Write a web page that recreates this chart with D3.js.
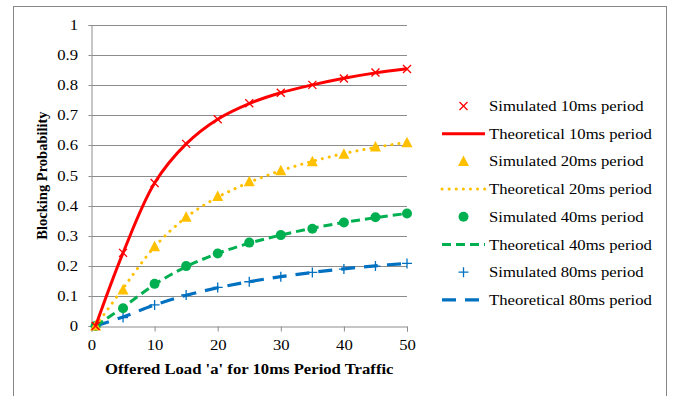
<!DOCTYPE html>
<html><head><meta charset="utf-8">
<script src="https://cdn.jsdelivr.net/npm/d3@7"></script>
<style>
html,body{margin:0;padding:0;background:#fff;}
svg{display:block;}
text{font-family:"Liberation Serif","Times New Roman",serif;fill:#000;}
</style></head>
<body><svg id="c" width="681" height="396"></svg>
<script>
const xValues = [0.65, 5, 10, 15, 20, 25, 30, 35, 40, 45, 50];
const sim10 = [0, 0.243, 0.475, 0.605, 0.687, 0.740, 0.775, 0.801, 0.822, 0.842, 0.854];
const theo10 = [0, 0.243, 0.475, 0.605, 0.687, 0.739, 0.775, 0.801, 0.823, 0.841, 0.855];
const sim20 = [0, 0.120, 0.263, 0.361, 0.430, 0.479, 0.516, 0.546, 0.571, 0.595, 0.609];
const theo20 = [0, 0.125, 0.263, 0.361, 0.428, 0.477, 0.516, 0.547, 0.573, 0.593, 0.611];
const sim40 = [0, 0.059, 0.140, 0.199, 0.241, 0.277, 0.302, 0.323, 0.344, 0.361, 0.374];
const theo40 = [0, 0.062, 0.138, 0.197, 0.241, 0.275, 0.302, 0.325, 0.344, 0.360, 0.374];
const sim80 = [0, 0.028, 0.070, 0.103, 0.128, 0.147, 0.164, 0.178, 0.189, 0.199, 0.208];
const theo80 = [0, 0.030, 0.070, 0.102, 0.127, 0.147, 0.164, 0.178, 0.190, 0.200, 0.208];
const xTicks = [0, 10, 20, 30, 40, 50];
const yTicks = [0, 0.1, 0.2, 0.3, 0.4, 0.5, 0.6, 0.7, 0.8, 0.9, 1];
const legendLabels = ["Simulated 10ms period","Theoretical 10ms period","Simulated 20ms period","Theoretical 20ms period","Simulated 40ms period","Theoretical 40ms period","Simulated 80ms period","Theoretical 80ms period"];

const SX = 1.15; // horizontal stretch of text in the original image
const FS = "14.5px";

const svg = d3.select("#c");
// outer border
svg.append("rect").attr("x",13.5).attr("y",6.5).attr("width",653).attr("height",400)
  .attr("fill","#fff").attr("stroke","#878787").attr("stroke-width",1);

const x = d3.scaleLinear().domain([0,50]).range([91.5,407]);
const y = d3.scaleLinear().domain([0,1]).range([326,25]);

function stretch(sel){
  sel.each(function(){
    const t = d3.select(this);
    const tx = +t.attr("x")||0, ty = +t.attr("y")||0;
    t.attr("x",0).attr("y",0).attr("transform",`translate(${tx},${ty}) scale(${SX},1)`);
  });
}

// gridlines
svg.append("g").selectAll("line").data(yTicks.slice(1)).join("line")
  .attr("x1",x(0)).attr("x2",x(50)).attr("y1",d=>Math.round(y(d))+0.5).attr("y2",d=>Math.round(y(d))+0.5)
  .attr("stroke","#8c8c8c").attr("stroke-width",1);

// y axis
const ya = svg.append("g").attr("transform","translate(91.5,0)")
  .call(d3.axisLeft(y).tickValues(yTicks).tickSize(3).tickPadding(10.5).tickFormat(d=>d3.format("~g")(d)));
ya.select(".domain").attr("stroke","#8c8c8c");
ya.selectAll(".tick line").attr("stroke","#8c8c8c");
ya.selectAll(".tick").attr("transform",d=>`translate(0,${Math.round(y(d))+0.5})`);
ya.selectAll("text").attr("font-family","Liberation Serif").attr("font-size",FS).attr("fill","#000").call(stretch);

// x axis
const xa = svg.append("g").attr("transform","translate(0,326.5)")
  .call(d3.axisBottom(x).tickValues(xTicks).tickSize(5).tickPadding(8));
xa.select(".domain").attr("stroke","#8c8c8c");
xa.selectAll(".tick line").attr("stroke","#8c8c8c");
xa.selectAll("text").attr("font-family","Liberation Serif").attr("font-size",FS).attr("fill","#000").call(stretch);

// axis titles
svg.append("text").attr("x",x(25)).attr("y",374).attr("text-anchor","middle")
  .attr("font-weight","bold").attr("font-size",FS).text("Offered Load 'a' for 10ms Period Traffic").call(stretch);
svg.append("text").attr("transform",`translate(47,${(y(0)+y(1))/2}) rotate(-90)`).attr("text-anchor","middle")
  .attr("font-weight","bold").attr("font-size",FS).text("Blocking Probability");

const series = [
  {sim:sim10, theo:theo10, color:"#ff0000", dash:null, width:3, marker:"x"},
  {sim:sim20, theo:theo20, color:"#ffc000", dash:"0.1,7", width:3, marker:"tri"},
  {sim:sim40, theo:theo40, color:"#00b050", dash:"9,5", width:3, marker:"circle"},
  {sim:sim80, theo:theo80, color:"#0070c0", dash:"14,9", width:3.2, marker:"plus"}
];

const line = d3.line().x(d=>x(d[0])).y(d=>y(d[1])).curve(d3.curveCatmullRom.alpha(0.5));

function drawMarker(g, type, color){
  if(type==="x"){
    g.append("path").attr("d","M-4,-4L4,4M-4,4L4,-4").attr("stroke",color).attr("stroke-width",1.3).attr("fill","none");
  } else if(type==="tri"){
    g.append("path").attr("d","M0,-6L5.5,4.5L-5.5,4.5Z").attr("fill",color);
  } else if(type==="circle"){
    g.append("circle").attr("r",5).attr("fill",color);
  } else {
    g.append("path").attr("d","M-5,0L5,0M0,-5L0,5").attr("stroke",color).attr("stroke-width",1.3).attr("fill","none");
  }
}

// draw in reverse order so red is on top
series.slice().reverse().forEach(s=>{
  const pts = xValues.map((xv,i)=>[xv,s.theo[i]]);
  svg.append("path").attr("d",line(pts)).attr("fill","none").attr("stroke",s.color)
    .attr("stroke-width",s.width).attr("stroke-dasharray",s.dash).attr("stroke-linecap",s.dash==="0.1,7"?"round":"butt");
  xValues.forEach((xv,i)=>{
    const g = svg.append("g").attr("transform",`translate(${x(xv)},${y(s.sim[i])})`);
    drawMarker(g, s.marker, s.color);
  });
});

// legend
const lg = svg.append("g");
legendLabels.forEach((lab,i)=>{
  const cy = 106 + i*27.7;
  const s = series[Math.floor(i/2)];
  if(i%2===0){
    const g = lg.append("g").attr("transform",`translate(463.5,${cy})`);
    drawMarker(g, s.marker, s.color);
  } else {
    lg.append("line").attr("x1",442).attr("x2",485).attr("y1",cy).attr("y2",cy)
      .attr("stroke",s.color).attr("stroke-width",s.width).attr("stroke-dasharray",s.dash)
      .attr("stroke-linecap",s.dash==="0.1,7"?"round":"butt");
  }
  lg.append("text").attr("x",489).attr("y",cy).attr("dy","0.35em").attr("font-size",FS).text(lab).call(stretch);
});
</script></body></html>
